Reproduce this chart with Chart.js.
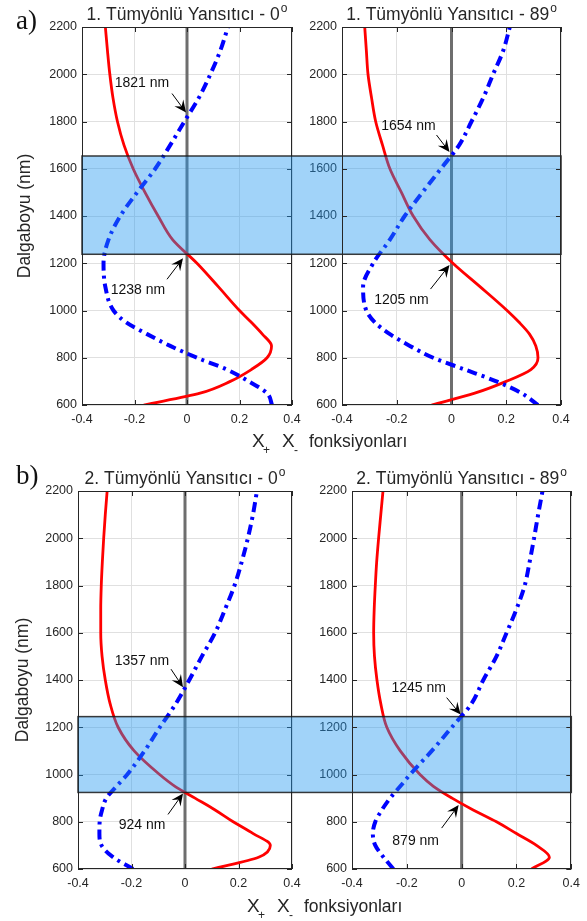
<!DOCTYPE html>
<html><head><meta charset="utf-8">
<script src="https://cdn.jsdelivr.net/npm/chart.js@4/dist/chart.umd.min.js"></script>
<style>
html,body{margin:0;padding:0;background:#fff;}
#wrap{position:relative;width:587px;height:921px;overflow:hidden;}
#wrap canvas{position:absolute;left:0;top:0;}
</style></head><body>
<div id="wrap">
<canvas id="c1" width="587" height="921"></canvas>
<canvas id="c2" width="587" height="921"></canvas>
<canvas id="c3" width="587" height="921"></canvas>
<canvas id="c4" width="587" height="921"></canvas>
</div>
<script>
// ---------------- data ----------------
const wavelengths = [600,650,700,750,800,850,900,950,1000,1100,1200,1300,1400,1500,1600,1700,1800,1900,2000,2100,2200];
// 1. reflector, 0 deg
const xPlus1_0  = [-0.165,0.05,0.165,0.245,0.305,0.322,0.287,0.245,0.2,0.12,0.038,-0.055,-0.11,-0.16,-0.205,-0.24,-0.265,-0.282,-0.294,-0.303,-0.311];
const xMinus1_0 = [0.324,0.305,0.235,0.152,0.038,-0.064,-0.152,-0.232,-0.28,-0.311,-0.318,-0.299,-0.254,-0.19,-0.121,-0.064,-0.01,0.045,0.089,0.127,0.156];
// 1. reflector, 89 deg
const xPlus1_89  = [-0.073,0.085,0.2,0.29,0.316,0.308,0.285,0.247,0.203,0.105,0.005,-0.079,-0.14,-0.183,-0.225,-0.252,-0.277,-0.292,-0.305,-0.311,-0.317];
const xMinus1_89 = [0.316,0.256,0.164,0.049,-0.067,-0.152,-0.225,-0.28,-0.311,-0.323,-0.286,-0.225,-0.171,-0.106,-0.039,0.028,0.073,0.116,0.152,0.189,0.213];
// 2. reflector, 0 deg
const xPlus2_0  = [0.1,0.275,0.319,0.255,0.18,0.1125,0.0375,-0.0375,-0.095,-0.19,-0.25,-0.28,-0.298,-0.31,-0.315,-0.315,-0.313,-0.309,-0.304,-0.298,-0.291];
const xMinus2_0 = [-0.194,-0.269,-0.312,-0.32,-0.319,-0.31,-0.294,-0.256,-0.216,-0.151,-0.094,-0.034,0.016,0.063,0.1125,0.15,0.185,0.212,0.235,0.254,0.269];
// 2. reflector, 89 deg
const xPlus2_89  = [0.255,0.32,0.273,0.2,0.127,0.042,-0.035,-0.103,-0.152,-0.224,-0.273,-0.295,-0.309,-0.318,-0.321,-0.319,-0.315,-0.31,-0.303,-0.295,-0.287];
const xMinus2_89 = [-0.249,-0.285,-0.315,-0.324,-0.315,-0.291,-0.261,-0.224,-0.188,-0.109,-0.036,0.036,0.079,0.127,0.164,0.2,0.23,0.248,0.264,0.279,0.295];

const xTicks = [-0.4,-0.2,0,0.2,0.4];
const yTicks = [600,800,1000,1200,1400,1600,1800,2000,2200];

const bandA = [1238, 1654];
const bandB = [924, 1245];

const crossings1_0  = [1821, 1238];
const crossings1_89 = [1654, 1205];
const crossings2_0  = [1357, 924];
const crossings2_89 = [1245, 879];

const titles = ['1. Tümyönlü Yansıtıcı - 0', '1. Tümyönlü Yansıtıcı - 89', '2. Tümyönlü Yansıtıcı - 0', '2. Tümyönlü Yansıtıcı - 89'];
const titleSup = 'o';
const panelLetters = ['a)', 'b)'];
const yAxisLabel = 'Dalgaboyu (nm)';
const xLabelParts = ['X', '+', 'X', '-', 'fonksiyonları'];

// ---------------- styles / layout ----------------
const SANS = '"Liberation Sans", Arial, Helvetica, sans-serif';
const SERIF = '"Liberation Serif", "DejaVu Serif", serif';
const TXT = '#262626';

// annotation offsets (px) relative to crossing point: tip, tail, text centre
const annotLayout = [
  [{tip:[-1,-4], tail:[-15,-23], text:[-45,-33]}, {tip:[-4,4], tail:[-20,25], text:[-49,36]}],
  [{tip:[-2,-4], tail:[-15,-21], text:[-43,-30]}, {tip:[-2,3], tail:[-21,27], text:[-50,38]}],
  [{tip:[-2,-3], tail:[-14,-21], text:[-43,-29]}, {tip:[-2,1], tail:[-17,22], text:[-43,33]}],
  [{tip:[-1,-2], tail:[-15,-19], text:[-43,-28]}, {tip:[-3,2], tail:[-20,25], text:[-46,38]}]
];

function toPts(arr) { return wavelengths.map((w, i) => ({x: arr[i], y: w})); }

function drawArrow(ctx, x0, y0, x1, y1) {
  const ang = Math.atan2(y1 - y0, x1 - x0);
  const L = 12, W = 5.5;
  ctx.save();
  ctx.strokeStyle = '#000'; ctx.fillStyle = '#000'; ctx.lineWidth = 1;
  ctx.beginPath(); ctx.moveTo(x0, y0);
  ctx.lineTo(x1 - Math.cos(ang) * 6, y1 - Math.sin(ang) * 6); ctx.stroke();
  const bx = x1 - Math.cos(ang) * L, by = y1 - Math.sin(ang) * L;
  const nx = -Math.sin(ang), ny = Math.cos(ang);
  const mx = x1 - Math.cos(ang) * L * 0.62, my = y1 - Math.sin(ang) * L * 0.62;
  ctx.beginPath();
  ctx.moveTo(x1, y1);
  ctx.lineTo(bx + nx * W, by + ny * W);
  ctx.lineTo(mx, my);
  ctx.lineTo(bx - nx * W, by - ny * W);
  ctx.closePath(); ctx.fill();
  ctx.restore();
}

function drawXLabel(ctx, x, y) {
  ctx.save();
  ctx.fillStyle = TXT; ctx.textAlign = 'left'; ctx.textBaseline = 'alphabetic';
  ctx.font = '19px ' + SANS; ctx.fillText(xLabelParts[0], x, y);
  ctx.font = '12px ' + SANS; ctx.fillText(xLabelParts[1], x + 11, y + 7);
  ctx.font = '19px ' + SANS; ctx.fillText(xLabelParts[2], x + 30, y);
  ctx.font = '12px ' + SANS; ctx.fillText(xLabelParts[3], x + 42, y + 7);
  ctx.font = '17.5px ' + SANS; ctx.fillText(xLabelParts[4], x + 57, y);
  ctx.restore();
}

const charts = [];

function panelPlugin(p) {
  return {
    id: 'panelDecor' + p.idx,
    afterDatasetsDraw(chart) {
      const ctx = chart.ctx, a = chart.chartArea;
      const xs = chart.scales.x, ys = chart.scales.y;
      ctx.save();
      if (p.band) {
        const partner = charts[p.partner];
        const l = partner.chartArea.left, r = a.right;
        const t = ys.getPixelForValue(p.band[1]), b = ys.getPixelForValue(p.band[0]);
        ctx.fillStyle = 'rgba(30,150,240,0.42)';
        ctx.fillRect(l, t, r - l, b - t);
        ctx.strokeStyle = 'rgba(25,25,25,0.85)'; ctx.lineWidth = 1.5;
        ctx.strokeRect(l, t, r - l, b - t);
      }
      ctx.strokeStyle = TXT; ctx.lineWidth = 1;
      ctx.strokeRect(Math.round(a.left) + 0.5, Math.round(a.top) + 0.5, Math.round(a.width) - 1, Math.round(a.height) - 1);
      ctx.beginPath();
      yTicks.forEach(v => {
        const y = Math.round(ys.getPixelForValue(v)) + 0.5;
        ctx.moveTo(a.left, y); ctx.lineTo(a.left + 5, y);
        ctx.moveTo(a.right, y); ctx.lineTo(a.right - 5, y);
      });
      xTicks.forEach(v => {
        const x = Math.round(xs.getPixelForValue(v)) + 0.5;
        ctx.moveTo(x, a.bottom); ctx.lineTo(x, a.bottom - 5);
        ctx.moveTo(x, a.top); ctx.lineTo(x, a.top + 5);
      });
      ctx.stroke();
      ctx.fillStyle = TXT; ctx.textBaseline = 'alphabetic'; ctx.textAlign = 'left';
      ctx.font = '17.5px ' + SANS;
      const w1 = ctx.measureText(p.title).width;
      ctx.font = '12px ' + SANS;
      const w2 = ctx.measureText(titleSup).width;
      const cx = (a.left + a.right) / 2;
      const x0 = cx - (w1 + w2 + 1) / 2;
      const base = a.top - 7;
      ctx.font = '17.5px ' + SANS; ctx.fillText(p.title, x0, base);
      ctx.font = '12px ' + SANS; ctx.fillText(titleSup, x0 + w1 + 1, base - 8);
      p.crossings.forEach((wl, i) => {
        const px = xs.getPixelForValue(0), py = ys.getPixelForValue(wl);
        const L = p.ann[i];
        drawArrow(ctx, px + L.tail[0], py + L.tail[1], px + L.tip[0], py + L.tip[1]);
        ctx.font = '14px ' + SANS; ctx.fillStyle = '#111'; ctx.textAlign = 'center'; ctx.textBaseline = 'middle';
        ctx.fillText(wl + ' nm', px + L.text[0], py + L.text[1]);
      });
      if (p.left) {
        ctx.fillStyle = '#111'; ctx.textAlign = 'left'; ctx.textBaseline = 'alphabetic';
        ctx.font = '27px ' + SERIF;
        ctx.fillText(p.letter, p.letterPos[0], p.letterPos[1]);
        ctx.save();
        ctx.translate(p.yLabelX, (a.top + a.bottom) / 2);
        ctx.rotate(-Math.PI / 2);
        ctx.font = '17.5px ' + SANS; ctx.fillStyle = TXT; ctx.textAlign = 'center'; ctx.textBaseline = 'middle';
        ctx.fillText(yAxisLabel, 0, 0);
        ctx.restore();
        drawXLabel(ctx, p.xLabelPos[0], p.xLabelPos[1]);
      }
      ctx.restore();
    }
  };
}

const panels = [
  {idx:0, canvas:'c1', plus:xPlus1_0,  minus:xMinus1_0,  title:titles[0], crossings:crossings1_0,  ann:annotLayout[0],
   pad:{left:42, top:27, right:295, bottom:491}, left:true, letter:panelLetters[0], letterPos:[16,29], yLabelX:25, xLabelPos:[252,447]},
  {idx:1, canvas:'c2', plus:xPlus1_89, minus:xMinus1_89, title:titles[1], crossings:crossings1_89, ann:annotLayout[1],
   pad:{left:302, top:27, right:26, bottom:491}, band:bandA, partner:0},
  {idx:2, canvas:'c3', plus:xPlus2_0,  minus:xMinus2_0,  title:titles[2], crossings:crossings2_0,  ann:annotLayout[2],
   pad:{left:38, top:491, right:295, bottom:27}, left:true, letter:panelLetters[1], letterPos:[16,484], yLabelX:23, xLabelPos:[247,912]},
  {idx:3, canvas:'c4', plus:xPlus2_89, minus:xMinus2_89, title:titles[3], crossings:crossings2_89, ann:annotLayout[3],
   pad:{left:312, top:491, right:15, bottom:27}, band:bandB, partner:2}
];

panels.forEach(p => {
  const ch = new Chart(document.getElementById(p.canvas), {
    type: 'line',
    data: {
      datasets: [
        {data: [{x:0, y:yTicks[0]}, {x:0, y:yTicks[yTicks.length-1]}], borderColor:'#6e6e6e', borderWidth:3,
         pointRadius:0, tension:0, order:3},
        {data: toPts(p.plus), borderColor:'#ff0000', borderWidth:2.8, pointRadius:0, cubicInterpolationMode:'monotone', order:2},
        {data: toPts(p.minus), borderColor:'#0000ff', borderWidth:4, borderDash:[10,5,3,5], pointRadius:0, cubicInterpolationMode:'monotone', order:1}
      ]
    },
    options: {
      indexAxis:'y',
      responsive:false, animation:false, devicePixelRatio:1,
      layout:{padding:p.pad},
      events: [],
      plugins:{legend:{display:false}, tooltip:{enabled:false}, title:{display:false}},
      scales:{
        x:{type:'linear', min:-0.4, max:0.4,
           afterBuildTicks: s => { s.ticks = xTicks.map(v => ({value:v})); },
           ticks:{padding:7, color:TXT, font:{family:SANS, size:12.5}, maxRotation:0, autoSkip:false, callback: v => String(v)},
           grid:{color:'#e0e0e0', drawTicks:false, lineWidth:1}, border:{display:false},
           afterFit: s => { s.height = 25; }},
        y:{type:'linear', min:600, max:2200, reverse:false,
           afterBuildTicks: s => { s.ticks = yTicks.map(v => ({value:v})); },
           ticks:{padding:5, color:TXT, font:{family:SANS, size:12.5}, autoSkip:false, callback: v => String(v)},
           grid:{color:'#e0e0e0', drawTicks:false, lineWidth:1}, border:{display:false},
           afterFit: s => { s.width = 40; }}
      }
    },
    plugins:[panelPlugin(p)]
  });
  charts.push(ch);
});
</script>
</body></html>
